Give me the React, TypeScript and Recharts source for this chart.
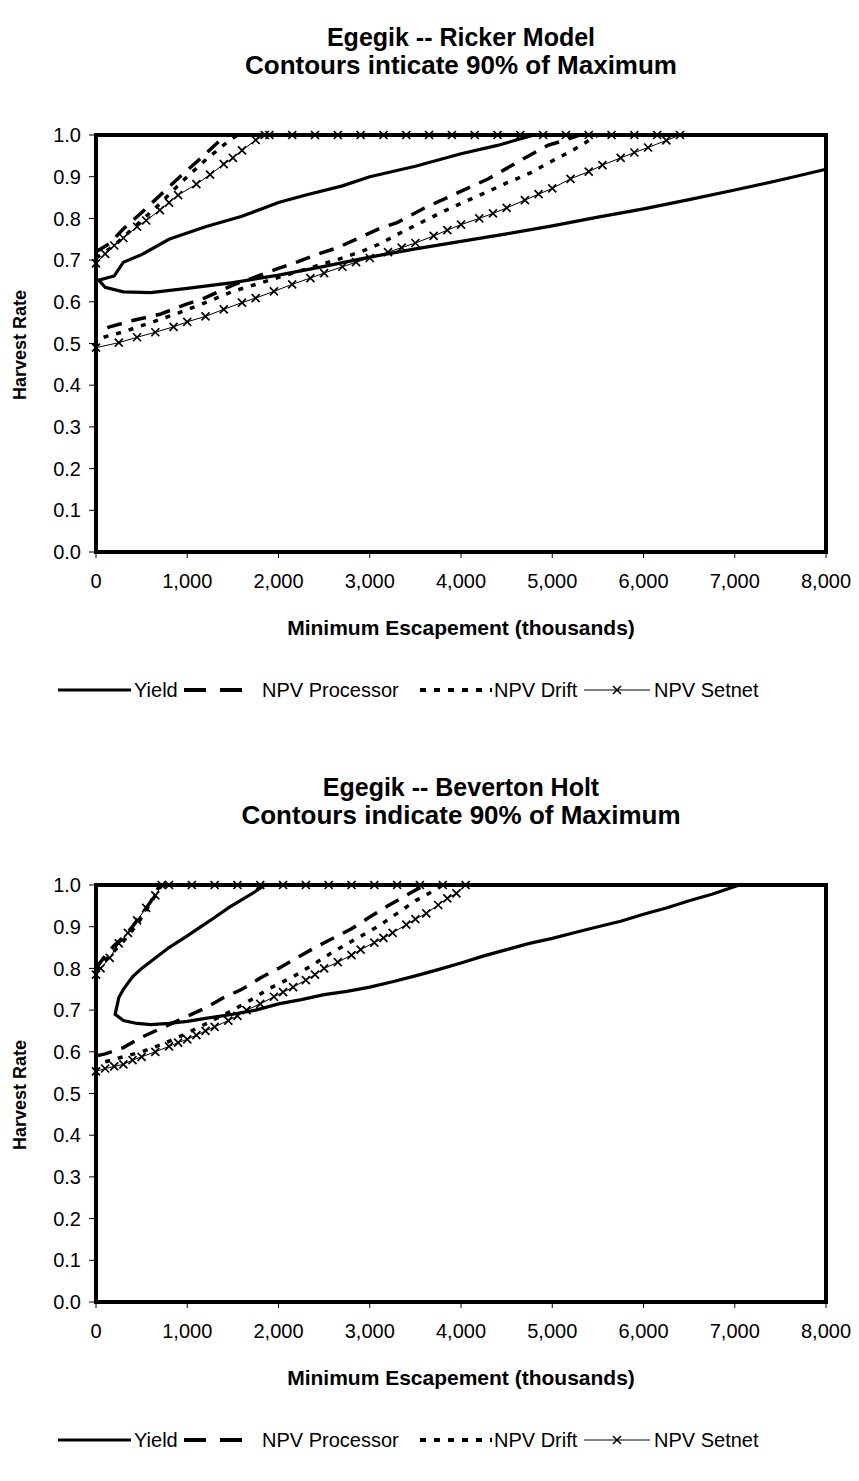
import React from "react";
import { LineChart, Line, XAxis, YAxis, ReferenceArea } from "recharts";

type Pt = [number, number];

// ---- Ricker model contours (escapement in thousands, harvest rate) ----
const rickerYield: Pt[] = [
  [8000, 0.918], [7500, 0.892], [7000, 0.868], [6500, 0.845], [6000, 0.823], [5500, 0.803],
  [5000, 0.782], [4500, 0.763], [4000, 0.745], [3500, 0.727], [3000, 0.707], [2500, 0.685],
  [2000, 0.664], [1500, 0.646], [1000, 0.632], [600, 0.622], [300, 0.624], [100, 0.635],
  [30, 0.652], [200, 0.662], [300, 0.695], [500, 0.713], [800, 0.75], [1200, 0.78],
  [1600, 0.805], [2000, 0.838], [2300, 0.856], [2700, 0.878], [3000, 0.9], [3500, 0.925],
  [4000, 0.955], [4400, 0.975], [4800, 1.0],
];

const rickerProcessor: Pt[] = [
  [0, 0.72], [150, 0.74], [300, 0.775], [480, 0.81], [700, 0.855], [920, 0.9], [1050, 0.925],
  [1200, 0.955], [1350, 0.985], [1450, 1.0], [5300, 1.0], [5100, 0.985], [4950, 0.975],
  [4700, 0.945], [4500, 0.92], [4300, 0.895], [4100, 0.875], [3850, 0.85], [3600, 0.825],
  [3300, 0.79], [3100, 0.775], [2900, 0.755], [2650, 0.73], [2400, 0.712], [2200, 0.695],
  [2000, 0.68], [1750, 0.66], [1500, 0.64], [1200, 0.61], [1000, 0.595], [700, 0.57],
  [400, 0.555], [150, 0.54], [0, 0.53],
];

const rickerDrift: Pt[] = [
  [0, 0.705], [200, 0.735], [450, 0.785], [700, 0.835], [950, 0.89], [1200, 0.94],
  [1450, 0.985], [1550, 1.0], [5500, 1.0], [5230, 0.964], [4975, 0.935], [4760, 0.909],
  [4500, 0.885], [4280, 0.863], [4060, 0.842], [3800, 0.816], [3580, 0.792], [3360, 0.768],
  [3100, 0.738], [2900, 0.72], [2670, 0.703], [2400, 0.685], [2100, 0.665], [1800, 0.645],
  [1500, 0.625], [1200, 0.598], [900, 0.573], [600, 0.55], [300, 0.528], [0, 0.51],
];

const rickerSetnet: Pt[] = [
  [0, 0.49], [250, 0.502], [450, 0.515], [650, 0.527], [850, 0.54], [1000, 0.552], [1200, 0.565],
  [1400, 0.582], [1600, 0.598], [1750, 0.609], [1950, 0.625], [2150, 0.642], [2350, 0.657],
  [2500, 0.669], [2700, 0.684], [2850, 0.695], [3000, 0.705], [3200, 0.719], [3350, 0.73],
  [3500, 0.741], [3700, 0.758], [3850, 0.772], [4000, 0.785], [4200, 0.8], [4350, 0.812],
  [4500, 0.825], [4700, 0.844], [4850, 0.858], [5000, 0.872], [5200, 0.895], [5400, 0.912],
  [5550, 0.928], [5750, 0.945], [5900, 0.958], [6050, 0.97], [6250, 0.987], [6400, 1.0],
  [6150, 1.0], [5900, 1.0], [5650, 1.0], [5400, 1.0], [5150, 1.0], [4900, 1.0], [4650, 1.0],
  [4400, 1.0], [4150, 1.0], [3900, 1.0], [3650, 1.0], [3400, 1.0], [3150, 1.0], [2900, 1.0],
  [2650, 1.0], [2400, 1.0], [2150, 1.0], [1900, 1.0], [1850, 1.0], [1750, 0.988],
  [1600, 0.963], [1500, 0.945], [1400, 0.93], [1250, 0.905], [1100, 0.882], [900, 0.856],
  [800, 0.838], [700, 0.82], [550, 0.795], [450, 0.78], [300, 0.753], [200, 0.735],
  [100, 0.715], [0, 0.692],
];

// ---- Beverton Holt contours ----
const bhYield: Pt[] = [
  [1850, 1.0], [1750, 0.985], [1600, 0.965], [1450, 0.945], [1300, 0.922], [1150, 0.9],
  [1000, 0.878], [800, 0.85], [650, 0.825], [500, 0.8], [400, 0.78], [300, 0.75], [250, 0.73],
  [220, 0.7], [210, 0.69], [300, 0.675], [450, 0.668], [600, 0.665], [800, 0.668],
  [1000, 0.673], [1200, 0.68], [1500, 0.69], [1750, 0.7], [2000, 0.715], [2250, 0.725],
  [2500, 0.737], [2750, 0.745], [3000, 0.755], [3250, 0.768], [3500, 0.782], [3750, 0.797],
  [4000, 0.813], [4250, 0.83], [4500, 0.845], [4750, 0.86], [5000, 0.872], [5250, 0.886],
  [5500, 0.9], [5750, 0.913], [6000, 0.93], [6250, 0.945], [6500, 0.962], [6750, 0.978],
  [7050, 1.0],
];

const bhProcessor: Pt[] = [
  [0, 0.8], [100, 0.83], [200, 0.855], [300, 0.875], [400, 0.9], [500, 0.93], [600, 0.96],
  [700, 1.0], [3600, 1.0], [3440, 0.98], [3200, 0.95], [3000, 0.923], [2800, 0.895],
  [2560, 0.868], [2400, 0.85], [2200, 0.825], [2000, 0.8], [1800, 0.777], [1600, 0.75],
  [1400, 0.73], [1200, 0.705], [1000, 0.685], [700, 0.655], [500, 0.635], [300, 0.61],
  [100, 0.595], [0, 0.59],
];

const bhDrift: Pt[] = [
  [0, 0.795], [150, 0.83], [300, 0.865], [450, 0.905], [550, 0.94], [650, 0.975], [720, 1.0],
  [3800, 1.0], [3650, 0.98], [3500, 0.962], [3300, 0.932], [3100, 0.902], [2860, 0.872],
  [2600, 0.84], [2400, 0.812], [2160, 0.78], [1900, 0.752], [1700, 0.725], [1500, 0.7],
  [1250, 0.672], [1000, 0.645], [750, 0.62], [500, 0.6], [250, 0.585], [0, 0.57],
];

const bhSetnet: Pt[] = [
  [0, 0.553], [100, 0.56], [200, 0.565], [300, 0.57], [400, 0.58], [500, 0.588], [650, 0.6],
  [800, 0.613], [900, 0.622], [1000, 0.63], [1100, 0.64], [1200, 0.65], [1300, 0.66],
  [1450, 0.675], [1550, 0.686], [1650, 0.7], [1800, 0.715], [1950, 0.732], [2050, 0.743],
  [2160, 0.755], [2300, 0.772], [2400, 0.785], [2500, 0.8], [2650, 0.815], [2800, 0.832],
  [2900, 0.845], [3050, 0.862], [3150, 0.873], [3250, 0.885], [3400, 0.905], [3500, 0.918],
  [3620, 0.932], [3750, 0.952], [3850, 0.968], [3950, 0.98], [4050, 1.0], [3800, 1.0],
  [3550, 1.0], [3300, 1.0], [3050, 1.0], [2800, 1.0], [2550, 1.0], [2300, 1.0], [2050, 1.0],
  [1800, 1.0], [1550, 1.0], [1300, 1.0], [1050, 1.0], [800, 1.0], [720, 1.0], [650, 0.975],
  [550, 0.945], [450, 0.915], [350, 0.885], [250, 0.86], [150, 0.825], [50, 0.8], [0, 0.785],
];

const xTicks = [0, 1000, 2000, 3000, 4000, 5000, 6000, 7000, 8000];
const yTicks = [0, 0.1, 0.2, 0.3, 0.4, 0.5, 0.6, 0.7, 0.8, 0.9, 1.0];
const legendNames = ["Yield", "NPV Processor", "NPV Drift", "NPV Setnet"];

const FONT = '"Liberation Sans", Arial, Helvetica, sans-serif';
const W = 859;
const H = 600;

const toRows = (pts: Pt[]) => pts.map(([x, y]) => ({ x, y }));

// small "x" marker used by the Setnet series
const Cross = (props: any) => {
  const { cx, cy, index } = props;
  if (cx == null || cy == null) return <g key={`n-${index}`} />;
  const s = 4;
  return (
    <path
      key={`x-${index}`}
      d={`M${cx - s},${cy - s}L${cx + s},${cy + s}M${cx - s},${cy + s}L${cx + s},${cy - s}`}
      stroke="#000"
      strokeWidth={1.7}
      fill="none"
    />
  );
};

interface PanelProps {
  top: number;
  title: string;
  subtitle: string;
  yieldPts: Pt[];
  processorPts: Pt[];
  driftPts: Pt[];
  setnetPts: Pt[];
}

const Legend: React.FC<{ top: number }> = ({ top }) => {
  const cy = top + 690;
  const text = (left: number, label: string) => (
    <div
      style={{
        position: "absolute",
        left,
        top: cy - 12,
        lineHeight: "24px",
        fontSize: 20,
        fontFamily: FONT,
        whiteSpace: "nowrap",
      }}
    >
      {label}
    </div>
  );
  return (
    <>
      <svg style={{ position: "absolute", left: 0, top: cy - 10 }} width={W} height={20}>
        <line x1={58} x2={131} y1={10} y2={10} stroke="#000" strokeWidth={3} />
        <line x1={184} x2={248} y1={10} y2={10} stroke="#000" strokeWidth={4} strokeDasharray="22 14" />
        <line x1={420} x2={492} y1={10} y2={10} stroke="#000" strokeWidth={4} strokeDasharray="6 8" />
        <line x1={584} x2={650} y1={10} y2={10} stroke="#000" strokeWidth={1} />
        <path d="M613,6L621,14M613,14L621,6" stroke="#000" strokeWidth={1.5} />
      </svg>
      {text(134, legendNames[0])}
      {text(262, legendNames[1])}
      {text(494, legendNames[2])}
      {text(654, legendNames[3])}
    </>
  );
};

const ContourPanel: React.FC<PanelProps> = ({
  top,
  title,
  subtitle,
  yieldPts,
  processorPts,
  driftPts,
  setnetPts,
}) => {
  const centered = (y: number, label: string, size: number) => (
    <div
      style={{
        position: "absolute",
        left: 0,
        width: 922,
        top: top + y - 13,
        lineHeight: "26px",
        textAlign: "center",
        fontSize: size,
        fontWeight: "bold",
        fontFamily: FONT,
        whiteSpace: "nowrap",
      }}
    >
      {label}
    </div>
  );

  return (
    <>
      {centered(37, title, 25)}
      {centered(65, subtitle, 26)}
      <div style={{ position: "absolute", left: 0, top }}>
        <LineChart width={W} height={H} margin={{ top: 135, right: 33, bottom: 0, left: 0 }}>
          <XAxis
            type="number"
            dataKey="x"
            domain={[0, 8000]}
            ticks={xTicks}
            tickFormatter={(v: number) => v.toLocaleString("en-US")}
            axisLine={false}
            tickLine={{ stroke: "#000", strokeWidth: 1 }}
            tickSize={6}
            tickMargin={16}
            height={48}
            interval={0}
            tick={{ fill: "#000", fontSize: 20, fontFamily: FONT }}
          />
          <YAxis
            type="number"
            dataKey="y"
            domain={[0, 1]}
            ticks={yTicks}
            tickFormatter={(v: number) => v.toFixed(1)}
            axisLine={false}
            tickLine={{ stroke: "#000", strokeWidth: 1 }}
            tickSize={7}
            tickMargin={8}
            width={96}
            interval={0}
            tick={{ fill: "#000", fontSize: 20, fontFamily: FONT }}
          />
          <ReferenceArea x1={0} x2={8000} y1={0} y2={1} fill="none" stroke="#000" strokeWidth={4} />
          <Line
            data={toRows(yieldPts)}
            dataKey="y"
            type="linear"
            stroke="#000"
            strokeWidth={3.2}
            dot={false}
            isAnimationActive={false}
          />
          <Line
            data={toRows(processorPts)}
            dataKey="y"
            type="linear"
            stroke="#000"
            strokeWidth={3.5}
            strokeDasharray="15 10"
            dot={false}
            isAnimationActive={false}
          />
          <Line
            data={toRows(driftPts)}
            dataKey="y"
            type="linear"
            stroke="#000"
            strokeWidth={3.5}
            strokeDasharray="5 8"
            dot={false}
            isAnimationActive={false}
          />
          <Line
            data={toRows(setnetPts)}
            dataKey="y"
            type="linear"
            stroke="#000"
            strokeWidth={1}
            dot={Cross}
            isAnimationActive={false}
          />
        </LineChart>
      </div>
      <div
        style={{
          position: "absolute",
          left: 20,
          top: top + 345,
          transform: "translate(-50%, -50%) rotate(-90deg)",
          fontSize: 18,
          fontWeight: "bold",
          fontFamily: FONT,
          whiteSpace: "nowrap",
        }}
      >
        Harvest Rate
      </div>
      {centered(628, "Minimum Escapement (thousands)", 21)}
      <Legend top={top} />
    </>
  );
};

export default function App() {
  return (
    <div style={{ position: "absolute", left: 0, top: 0, width: W, height: 1481, background: "#fff" }}>
      <ContourPanel
        top={0}
        title="Egegik -- Ricker Model"
        subtitle="Contours inticate 90% of Maximum"
        yieldPts={rickerYield}
        processorPts={rickerProcessor}
        driftPts={rickerDrift}
        setnetPts={rickerSetnet}
      />
      <ContourPanel
        top={750}
        title="Egegik -- Beverton Holt"
        subtitle="Contours indicate 90% of Maximum"
        yieldPts={bhYield}
        processorPts={bhProcessor}
        driftPts={bhDrift}
        setnetPts={bhSetnet}
      />
    </div>
  );
}
